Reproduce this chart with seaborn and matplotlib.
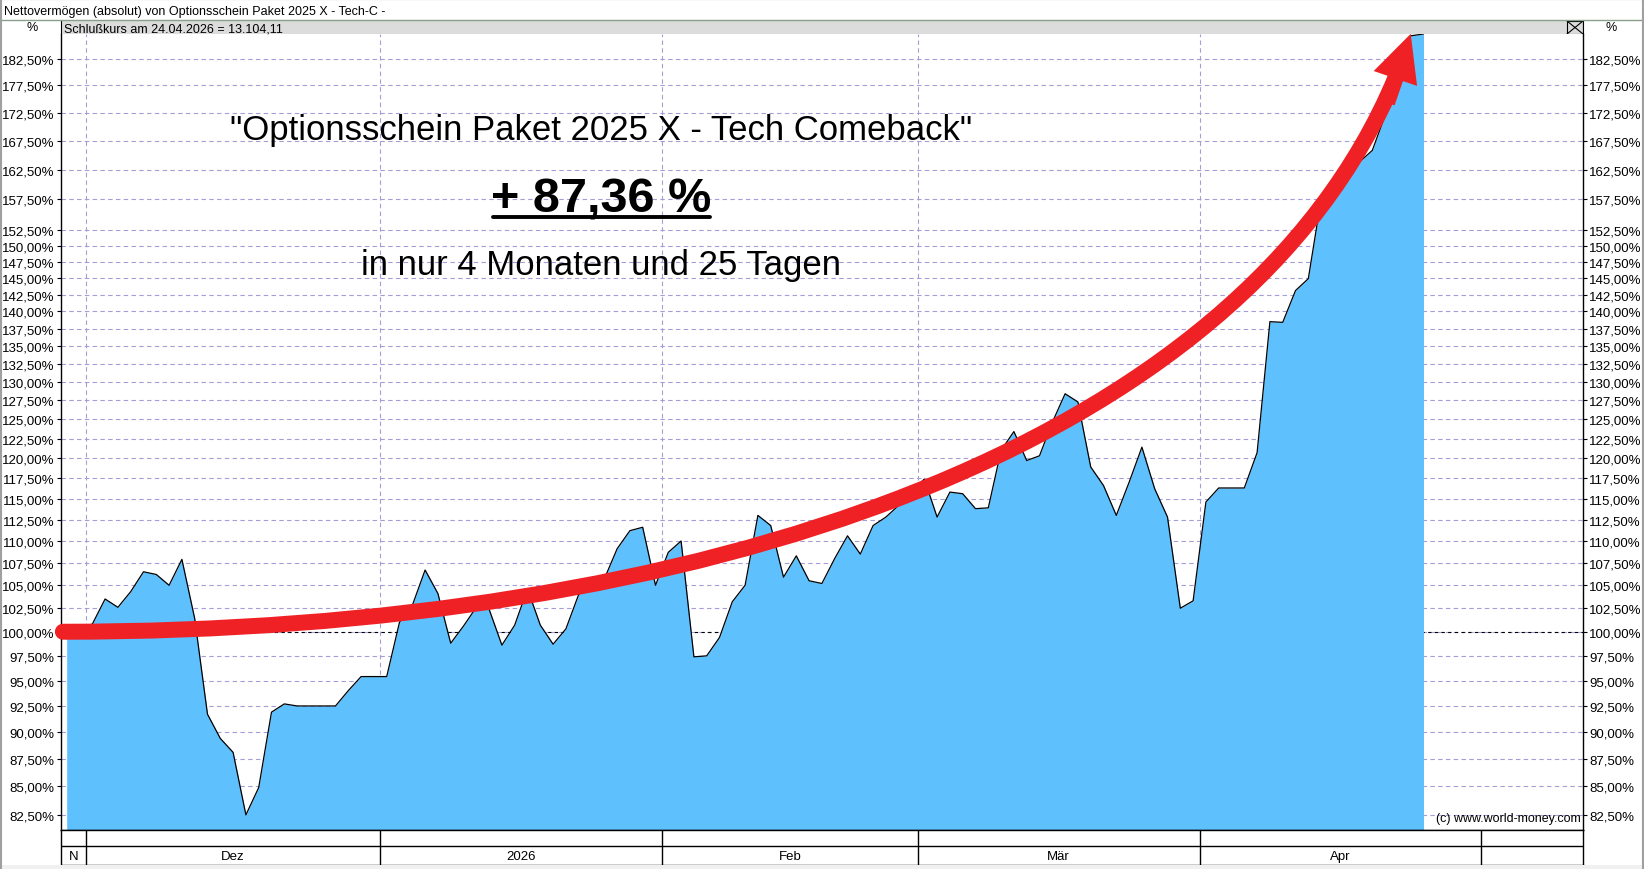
import pandas as pd
import matplotlib
matplotlib.use("Agg")
import matplotlib.pyplot as plt
import matplotlib.ticker as mticker
from matplotlib.path import Path
from matplotlib.patches import PathPatch, FancyArrowPatch, Rectangle
from matplotlib.lines import Line2D
import seaborn as sns

W, H = 1644, 870

# Handelstage (Mo-Fr) vom 27.11.2025 bis 24.04.2026
start_date = "2025-11-27"
end_date = "2026-04-24"
calendar_end = "2026-05-29"

nav_pct = [
    100.0, 100.5, 100.8, 103.5, 102.6, 104.3, 106.5, 106.2, 105.0, 107.9,
    101.4, 91.7, 89.4, 88.1, 82.5, 84.9, 91.9, 92.7, 92.5, 92.5,
    92.5, 92.5, 94.0, 95.4, 95.4, 95.4, 101.0, 102.8, 106.7, 104.1,
    98.8, 100.6, 102.6, 102.4, 98.6, 100.7, 104.6, 100.7, 98.7, 100.3,
    104.0, 104.7, 105.7, 109.1, 111.2, 111.6, 105.0, 108.7, 110.0, 97.4,
    97.5, 99.4, 103.2, 105.0, 113.0, 111.8, 105.9, 108.3, 105.5, 105.2,
    108.0, 110.6, 108.5, 111.8, 112.8, 114.2, 115.8, 117.4, 112.8, 115.8,
    115.6, 113.8, 113.9, 121.0, 123.4, 119.7, 120.3, 124.6, 128.4, 127.3,
    118.9, 116.6, 113.0, 117.0, 121.4, 116.2, 112.8, 102.5, 103.3, 114.6,
    116.3, 116.3, 116.3, 120.7, 138.5, 138.4, 143.1, 144.9, 157.5, 159.5,
    161.5, 163.8, 165.8, 172.0, 179.5, 187.0, 187.36,
]

y_ticks = [
    82.5, 85.0, 87.5, 90.0, 92.5, 95.0, 97.5, 100.0, 102.5, 105.0,
    107.5, 110.0, 112.5, 115.0, 117.5, 120.0, 122.5, 125.0, 127.5, 130.0,
    132.5, 135.0, 137.5, 140.0, 142.5, 145.0, 147.5, 150.0, 152.5,
    157.5, 162.5, 167.5, 172.5, 177.5, 182.5,
]
month_labels = ["N", "Dez", "2026", "Feb", "Mär", "Apr", ""]

title_text = "Nettovermögen (absolut) von Optionsschein Paket 2025 X - Tech-C -"
close_text = "Schlußkurs am 24.04.2026 = 13.104,11"
headline = '"Optionsschein Paket 2025 X - Tech Comeback"'
perf_text = "+ 87,36 %"
period_text = "in nur 4 Monaten und 25 Tagen"
copyright_text = "(c) www.world-money.com"

# Pfeil (Handelstag-Index, Prozent)
arrow_start = (-0.3, 100.0)
arrow_ctrl1 = (49.5, 100.0)
arrow_ctrl2 = (91.7, 121.2)
arrow_base = (103.8, 178.9)
arrow_neck = (103.15, 174.3)
arrow_tip = (105.0, 187.4)

FILL = "#5EC0FD"
GRID = "#A59DDA"
RED = "#EF2125"


def rect(x0, y0, x1, y1):
    return [x0 / W, 1 - y1 / H, (x1 - x0) / W, (y1 - y0) / H]


def fig_xy(x, y):
    return x / W, 1 - y / H


def pct_label(v, pos=None):
    return f"{v:.2f}".replace(".", ",") + "%"


def plot_nav(df, month_edges):
    fig = plt.figure(figsize=(W / 100, H / 100), dpi=100)
    fig.patch.set_facecolor("white")

    ax = fig.add_axes(rect(61, 35, 1583, 831))
    ax.set_yscale("log")
    ax.set_xlim(-0.445, 118.46)
    ax.set_ylim(81.2, 187.36)

    ax.fill_between(df["idx"], df["nav"], 81.2, color=FILL, lw=0, zorder=2)
    sns.lineplot(data=df, x="idx", y="nav", color="black", lw=0.9,
                 estimator=None, ax=ax, zorder=3)
    ax.axhline(100, color="black", lw=0.8, ls=(0, (3, 3)), zorder=1)

    ax.set_axisbelow(True)
    ax.yaxis.set_major_locator(mticker.FixedLocator(y_ticks))
    ax.yaxis.set_minor_locator(mticker.NullLocator())
    ax.yaxis.set_major_formatter(mticker.FuncFormatter(pct_label))
    ax.yaxis.grid(True, color=GRID, ls=(0, (4, 3)), lw=0.8)
    # keine Gitterlinie am Mai-Beginn
    for e in month_edges[1:-2]:
        ax.axvline(e, color=GRID, ls=(0, (4, 3)), lw=0.8, zorder=0.6)

    ax.tick_params(axis="y", which="both", left=True, right=True,
                   labelleft=True, labelright=True, length=3, width=0.8,
                   direction="out", labelsize=9.5, pad=1.5, colors="black")
    ax.tick_params(axis="x", bottom=False, labelbottom=False)
    ax.set_xlabel("")
    ax.set_ylabel("")
    ax.spines["top"].set_visible(False)
    for s in ["left", "right", "bottom"]:
        ax.spines[s].set_color("black")
        ax.spines[s].set_linewidth(1)

    # roter Pfeil
    shaft = Path([arrow_start, arrow_ctrl1, arrow_ctrl2, arrow_base],
                 [Path.MOVETO, Path.CURVE4, Path.CURVE4, Path.CURVE4])
    ax.add_patch(PathPatch(shaft, facecolor="none", edgecolor=RED, lw=11.5,
                           capstyle="round", zorder=5, clip_on=False))
    ax.add_patch(FancyArrowPatch(
        posA=arrow_neck, posB=arrow_tip, shrinkA=0, shrinkB=0,
        arrowstyle="simple,head_length=34,head_width=33,tail_width=11.5",
        mutation_scale=1, color=RED, lw=0, zorder=5, clip_on=False))

    ax.text(0.9987, 0.008, copyright_text, transform=ax.transAxes,
            ha="right", va="bottom", fontsize=9, zorder=4)

    # Kopfzeile
    ax_head = fig.add_axes(rect(61, 22, 1583, 35))
    ax_head.set_facecolor("#DCDCDC")
    ax_head.set_xticks([])
    ax_head.set_yticks([])
    ax_head.set_xlim(0, 1)
    ax_head.set_ylim(0, 1)
    ax_head.spines["top"].set_visible(False)
    ax_head.spines["bottom"].set_visible(False)
    for s in ["left", "right"]:
        ax_head.spines[s].set_color("black")
    ax_head.text(0.002, 0.45, close_text, va="center", ha="left", fontsize=9)
    bx0 = (1567 - 61) / 1522
    ax_head.add_patch(Rectangle((bx0, 0), 1 - bx0, 1, facecolor="#DCDCDC",
                                edgecolor="black", lw=0.8))
    ax_head.plot([bx0, 1], [0, 1], color="black", lw=0.8)
    ax_head.plot([bx0, 1], [1, 0], color="black", lw=0.8)

    # Monatsleiste
    ax_bot = fig.add_axes(rect(61, 831, 1583, 866), sharex=ax)
    ax_bot.set_ylim(0, 1)
    ax_bot.tick_params(axis="both", left=False, bottom=False,
                       labelleft=False, labelbottom=False)
    for s in ax_bot.spines.values():
        s.set_color("black")
        s.set_linewidth(1)
    ax_bot.axhline(0.543, color="black", lw=1)
    for e in month_edges[1:-1]:
        ax_bot.axvline(e, color="black", lw=1)
    for lab, a, b in zip(month_labels, month_edges[:-1], month_edges[1:]):
        ax_bot.text((a + b) / 2, 0.26, lab, ha="center", va="center",
                    fontsize=9.5)

    # Rahmen und Titelzeile
    fig.add_artist(Rectangle((0, 0), 1, 1 - 866 / H, transform=fig.transFigure,
                             facecolor="#F0F0F0", lw=0))
    fig.add_artist(Line2D([0, 1], [1 - 21 / H] * 2, transform=fig.transFigure,
                          color="#8AA08A", lw=1))
    fig.add_artist(Line2D([0, 1], [0.9995] * 2, transform=fig.transFigure,
                          color="#707070", lw=1.5))
    fig.add_artist(Line2D([0.0005] * 2, [0, 1], transform=fig.transFigure,
                          color="#A0A0A0", lw=1.5))
    fig.add_artist(Line2D([0.9995] * 2, [0, 1], transform=fig.transFigure,
                          color="#A0A0A0", lw=1.5))
    fig.text(*fig_xy(4, 12), title_text, ha="left", va="center", fontsize=9)
    fig.text(*fig_xy(32, 28), "%", ha="center", va="center", fontsize=9)
    fig.text(*fig_xy(1611, 28), "%", ha="center", va="center", fontsize=9)

    # Beschriftung
    fig.text(*fig_xy(601, 140), headline, ha="center", va="baseline",
             fontsize=25)
    fig.text(*fig_xy(601, 212), perf_text, ha="center", va="baseline",
             fontsize=35, fontweight="bold")
    fig.add_artist(Line2D([493 / W, 710 / W], [1 - 218 / H] * 2,
                          transform=fig.transFigure, color="black", lw=2.8))
    fig.text(*fig_xy(601, 275), period_text, ha="center", va="baseline",
             fontsize=25)

    fig.savefig("out.png", dpi=100)


def main():
    sns.set_style("white")
    plt.rcParams["font.family"] = ["Liberation Sans", "DejaVu Sans"]
    plt.rcParams["text.color"] = "black"
    plt.rcParams["axes.labelcolor"] = "black"
    plt.rcParams["ytick.color"] = "black"
    plt.rcParams["xtick.color"] = "black"

    dates = pd.bdate_range(start_date, end_date)
    df = pd.DataFrame({"date": dates, "idx": range(len(dates)), "nav": nav_pct})

    cal = pd.bdate_range(start_date, calendar_end)
    months = cal.month
    starts = [i for i in range(1, len(cal)) if months[i] != months[i - 1]]
    month_edges = [-0.445] + [s - 0.5 for s in starts] + [118.46]

    plot_nav(df, month_edges)


if __name__ == "__main__":
    main()
